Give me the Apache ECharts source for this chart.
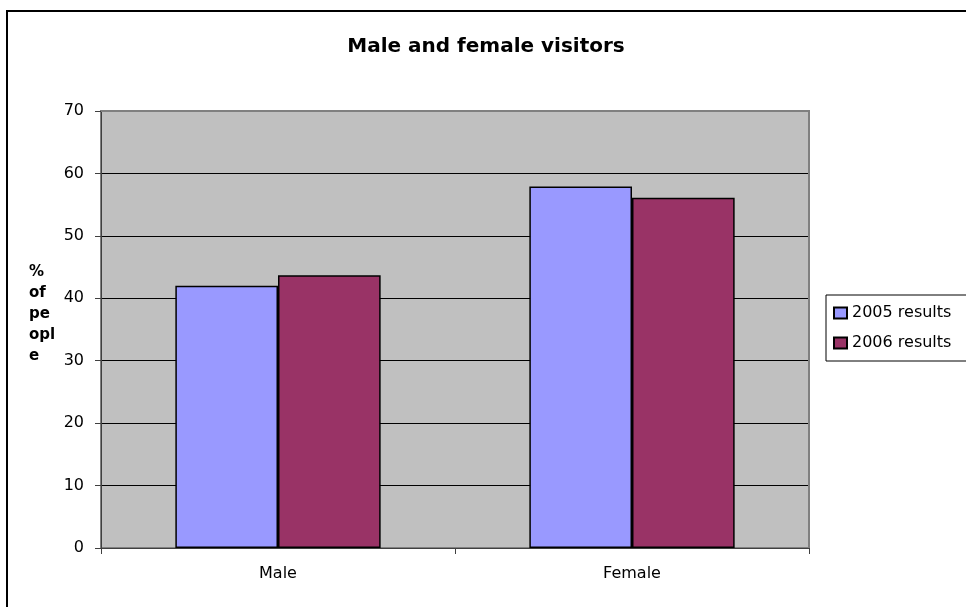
<!DOCTYPE html>
<html>
<head>
<meta charset="utf-8">
<title>Male and female visitors</title>
<script src="https://cdn.jsdelivr.net/npm/echarts@6/dist/echarts.min.js"></script>
<style>
  html, body { margin: 0; padding: 0; background: #fff; }
  #chart { width: 966px; height: 607px; }
</style>
</head>
<body>
<div id="chart"></div>
<script>
// Visitor survey: share of male and female visitors per year
var categories = ['Male', 'Female'];
var seriesNames = ['2005 results', '2006 results'];
var results2005 = [42, 57.9];
var results2006 = [43.7, 56.1];
var yTicks = { min: 0, max: 70, interval: 10 };

var FONT = '"DejaVu Sans", "Liberation Sans", Arial, sans-serif';

// plot frame geometry (shared by the grid and its outline)
var GRID = { left: 101, right: 157, top: 111, bottom: 59 };
var W = 966, H = 607;
var plotRight = W - GRID.right, plotBottom = H - GRID.bottom;

var chart = echarts.init(document.getElementById('chart'), null, { renderer: 'canvas' });

chart.setOption({
  backgroundColor: '#ffffff',
  animation: false,
  textStyle: { fontFamily: FONT, color: '#000' },
  graphic: [
    {
      type: 'rect',
      shape: { x: 7, y: 11, width: 1000, height: 1000 },
      style: { fill: 'none', stroke: '#000', lineWidth: 2 },
      silent: true
    },
    {
      // grey frame along the top and right of the plot area
      type: 'polyline',
      z: 100,
      shape: { points: [[GRID.left, GRID.top], [plotRight, GRID.top], [plotRight, plotBottom]] },
      style: { fill: 'none', stroke: '#808080', lineWidth: 2 },
      silent: true
    },
    {
      type: 'text',
      x: 486, y: 47,
      style: {
        text: 'Male and female visitors',
        fontFamily: FONT, fontSize: 20, fontWeight: 'bold',
        fill: '#000', align: 'center', verticalAlign: 'middle'
      }
    },
    {
      type: 'text',
      x: 29, y: 262,
      style: {
        text: '%\nof\npe\nopl\ne',
        fontFamily: FONT, fontSize: 15, fontWeight: 'bold',
        lineHeight: 21, fill: '#000', align: 'left', verticalAlign: 'top'
      }
    }
  ],
  legend: {
    orient: 'vertical',
    left: 826, top: 295,
    padding: [9, 40, 9, 7],
    itemGap: 12,
    itemWidth: 13, itemHeight: 11,
    icon: 'rect',
    backgroundColor: '#fff',
    borderColor: '#000', borderWidth: 1,
    textStyle: { fontFamily: FONT, fontSize: 16, color: '#000', lineHeight: 18 },
    data: seriesNames
  },
  grid: {
    left: GRID.left, right: GRID.right, top: GRID.top, bottom: GRID.bottom,
    show: true,
    backgroundColor: '#C0C0C0',
    borderColor: '#808080', borderWidth: 2
  },
  xAxis: {
    type: 'category',
    data: categories,
    axisLine: { show: true, lineStyle: { color: '#404040', width: 1 } },
    axisTick: { show: true, length: 6, alignWithLabel: false, lineStyle: { color: '#404040' } },
    axisLabel: { fontFamily: FONT, fontSize: 16, color: '#000', margin: 18 },
    splitLine: { show: false }
  },
  yAxis: {
    type: 'value',
    min: yTicks.min, max: yTicks.max, interval: yTicks.interval,
    axisLine: { show: true, lineStyle: { color: '#404040', width: 1 } },
    axisTick: { show: true, length: 6, inside: false, lineStyle: { color: '#404040' } },
    axisLabel: { fontFamily: FONT, fontSize: 16, color: '#000', margin: 17 },
    splitLine: { show: true, lineStyle: { color: '#000', width: 1 } }
  },
  series: [
    {
      name: seriesNames[0],
      type: 'bar',
      data: results2005,
      barGap: '0%',
      barCategoryGap: '42%',
      itemStyle: { color: '#9999FF', borderColor: '#000', borderWidth: 1.5 }
    },
    {
      name: seriesNames[1],
      type: 'bar',
      data: results2006,
      barGap: '0%',
      barCategoryGap: '42%',
      itemStyle: { color: '#993366', borderColor: '#000', borderWidth: 1.5 }
    }
  ]
});
</script>
</body>
</html>
